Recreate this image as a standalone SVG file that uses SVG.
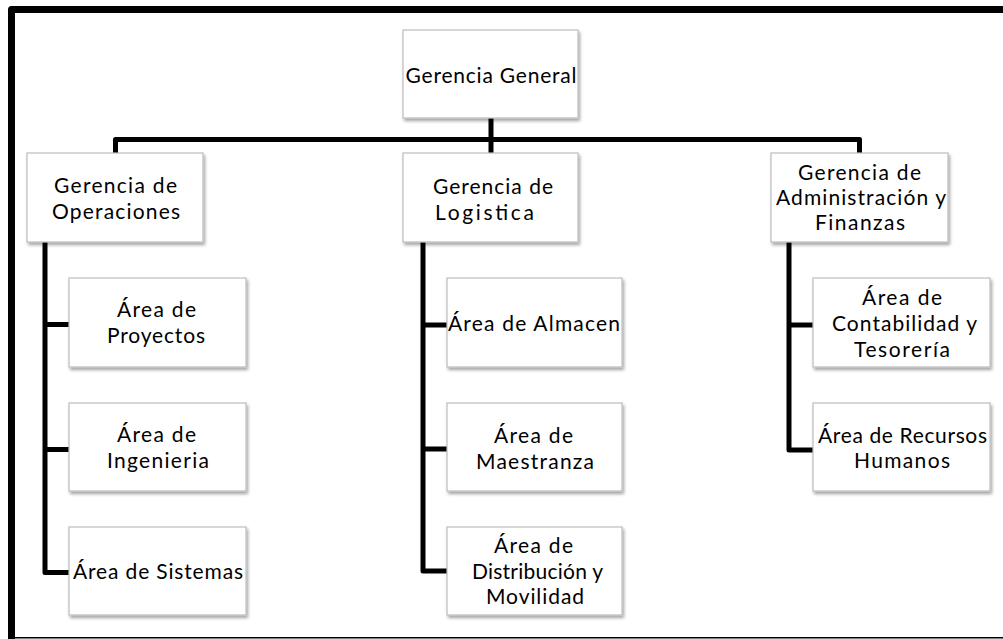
<svg xmlns="http://www.w3.org/2000/svg" width="1003" height="639" viewBox="0 0 1003 639">
  <defs>
    <filter id="shadow" x="-10%" y="-10%" width="130%" height="140%">
      <feDropShadow dx="1.5" dy="2.5" stdDeviation="1.6" flood-color="#000" flood-opacity="0.35"/>
    </filter>
  </defs>
  <style>
    .box { fill: #ffffff; stroke: #bdbdbd; stroke-width: 1.2; filter: url(#shadow); }
    .lbl { font-family: Lato, "Open Sans", "Liberation Sans", sans-serif; font-size: 21px; fill: #000; }
    .conn { fill: none; stroke: #000; stroke-width: 5; stroke-linejoin: round; stroke-linecap: butt; }
    .frame { fill: none; stroke: #000; }
  </style>

  <rect x="0" y="0" width="1003" height="639" fill="#ffffff"/>

  <!-- outer frame: heavy left and top rule, thin bottom rule -->
  <path class="frame" d="M11.5 639 V9.5 H1003" stroke-width="7" stroke-linejoin="round"/>
  <path class="frame" d="M8 637.8 H1003" stroke-width="1.6"/>

  <!-- connectors -->
  <g id="connectors">
    <path class="conn" d="M491 118 V153"/>
    <path class="conn" d="M115.5 153 V139.5 H859.5 V153"/>
    <path class="conn" d="M45 242 V572.5 H69"/>
    <path class="conn" d="M45 324.5 H69"/>
    <path class="conn" d="M45 449.5 H69"/>
    <path class="conn" d="M423 242 V571 H447"/>
    <path class="conn" d="M423 325 H447"/>
    <path class="conn" d="M423 449 H447"/>
    <path class="conn" d="M789 242 V450 H813"/>
    <path class="conn" d="M789 325 H813"/>
  </g>

  <g id="gerencia-general">
    <rect class="box" x="403" y="30" width="175" height="88"/>
    <text class="lbl" x="405.5" y="83" textLength="171" lengthAdjust="spacing">Gerencia General</text>
  </g>

  <g id="gerencia-operaciones">
    <rect class="box" x="27" y="153" width="176" height="89"/>
    <text class="lbl" x="54" y="193" textLength="123" lengthAdjust="spacing">Gerencia de</text>
    <text class="lbl" x="52" y="219" textLength="128" lengthAdjust="spacing">Operaciones</text>
  </g>

  <g id="gerencia-logistica">
    <rect class="box" x="403" y="153" width="175" height="89"/>
    <text class="lbl" x="433" y="194" textLength="120" lengthAdjust="spacing">Gerencia de</text>
    <text class="lbl" x="435" y="220" textLength="99" lengthAdjust="spacing">Logistica</text>
  </g>

  <g id="gerencia-administracion">
    <rect class="box" x="771" y="153" width="177" height="89"/>
    <text class="lbl" x="798" y="180" textLength="123" lengthAdjust="spacing">Gerencia de</text>
    <text class="lbl" x="776" y="205" textLength="170" lengthAdjust="spacing">Administración y</text>
    <text class="lbl" x="815" y="230" textLength="90" lengthAdjust="spacing">Finanzas</text>
  </g>

  <g id="area-proyectos">
    <rect class="box" x="69" y="278" width="177" height="89"/>
    <text class="lbl" x="117" y="317" textLength="79" lengthAdjust="spacing">Área de</text>
    <text class="lbl" x="107" y="343" textLength="98" lengthAdjust="spacing">Proyectos</text>
  </g>

  <g id="area-ingenieria">
    <rect class="box" x="69" y="403" width="177" height="88"/>
    <text class="lbl" x="117" y="442" textLength="79" lengthAdjust="spacing">Área de</text>
    <text class="lbl" x="107" y="468" textLength="102" lengthAdjust="spacing">Ingenieria</text>
  </g>

  <g id="area-sistemas">
    <rect class="box" x="69" y="527" width="177" height="88"/>
    <text class="lbl" x="73" y="579" textLength="170" lengthAdjust="spacing">Área de Sistemas</text>
  </g>

  <g id="area-almacen">
    <rect class="box" x="447" y="278" width="175" height="89"/>
    <text class="lbl" x="448" y="331" textLength="172" lengthAdjust="spacing">Área de Almacen</text>
  </g>

  <g id="area-maestranza">
    <rect class="box" x="447" y="403" width="175" height="88"/>
    <text class="lbl" x="494" y="443" textLength="79" lengthAdjust="spacing">Área de</text>
    <text class="lbl" x="476" y="469" textLength="118" lengthAdjust="spacing">Maestranza</text>
  </g>

  <g id="area-distribucion">
    <rect class="box" x="447" y="527" width="175" height="88"/>
    <text class="lbl" x="494" y="553" textLength="79" lengthAdjust="spacing">Área de</text>
    <text class="lbl" x="472" y="579" textLength="131" lengthAdjust="spacing">Distribución y</text>
    <text class="lbl" x="486" y="604" textLength="98" lengthAdjust="spacing">Movilidad</text>
  </g>

  <g id="area-contabilidad">
    <rect class="box" x="813" y="278" width="177" height="89"/>
    <text class="lbl" x="862" y="305" textLength="80" lengthAdjust="spacing">Área de</text>
    <text class="lbl" x="832" y="331" textLength="145" lengthAdjust="spacing">Contabilidad y</text>
    <text class="lbl" x="854" y="357" textLength="96" lengthAdjust="spacing">Tesorería</text>
  </g>

  <g id="area-recursos-humanos">
    <rect class="box" x="813" y="403" width="177" height="88"/>
    <text class="lbl" x="818" y="443" textLength="169" lengthAdjust="spacing">Área de Recursos</text>
    <text class="lbl" x="854" y="468" textLength="96" lengthAdjust="spacing">Humanos</text>
  </g>
</svg>
